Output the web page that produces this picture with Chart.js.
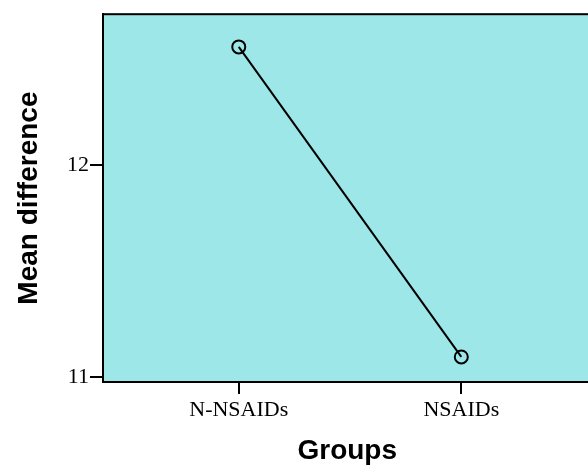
<!DOCTYPE html>
<html>
<head>
<meta charset="utf-8">
<script src="https://cdn.jsdelivr.net/npm/chart.js@4"></script>
<style>
  body { margin: 0; overflow: hidden; background: #fff; }
  #wrap { width: 600px; height: 467px; }
</style>
</head>
<body>
<div id="wrap"><canvas id="myChart" width="600" height="467"></canvas></div>
<script>
// data
const groups = ['N-NSAIDs', 'NSAIDs'];
const groupPos = [1, 2];
const meanDiff = [12.556, 11.096];
const yTicks = [11, 12];

// plot background + top border
const plotBox = {
    id: 'plotBox',
    beforeDraw(chart) {
        const a = chart.chartArea, ctx = chart.ctx;
        ctx.save();
        ctx.fillStyle = '#9ee7e8';
        ctx.fillRect(a.left, a.top, a.right - a.left, a.bottom - a.top);
        ctx.restore();
    },
    afterDraw(chart) {
        const a = chart.chartArea, ctx = chart.ctx;
        ctx.save();
        ctx.strokeStyle = '#000';
        ctx.lineWidth = 2;
        ctx.strokeRect(a.left, a.top, a.right - a.left, a.bottom - a.top);
        ctx.restore();
    }
};

const tickFont = { family: '"Liberation Serif", "Times New Roman", serif', size: 22 };
const titleFont = { family: '"Liberation Sans", Arial, sans-serif', size: 28, weight: 'bold', lineHeight: 1 };

new Chart(document.getElementById('myChart'), {
    type: 'line',
    data: {
        datasets: [{
            data: groupPos.map((x, i) => ({ x: x, y: meanDiff[i] })),
            borderColor: '#000',
            borderWidth: 2,
            pointRadius: 6.5,
            pointBorderWidth: 2,
            pointBackgroundColor: 'rgba(0,0,0,0)',
            pointBorderColor: '#000',
            fill: false,
            tension: 0
        }]
    },
    options: {
        responsive: false,
        animation: false,
        layout: { padding: { top: 12, right: 3, left: 0, bottom: 0 } },
        plugins: { legend: { display: false }, tooltip: { enabled: false } },
        scales: {
            x: {
                type: 'linear',
                min: 0.39,
                max: 2.585,
                afterBuildTicks: (s) => { s.ticks = groupPos.map(v => ({ value: v })); },
                afterFit: (s) => { s.height = 85; },
                ticks: {
                    color: '#000',
                    font: tickFont,
                    padding: 3,
                    callback: (v) => groups[groupPos.indexOf(v)]
                },
                grid: { drawOnChartArea: false, drawTicks: true, tickLength: 12, color: '#000', lineWidth: 2 },
                border: { display: true, color: '#000', width: 2 },
                title: { display: true, text: 'Groups', color: '#000', font: titleFont, padding: { top: 0, bottom: 2 } }
            },
            y: {
                min: 10.978,
                max: 12.71,
                afterBuildTicks: (s) => { s.ticks = yTicks.map(v => ({ value: v })); },
                afterFit: (s) => { s.width = 103; },
                ticks: { color: '#000', font: tickFont, padding: 1 },
                grid: { drawOnChartArea: false, drawTicks: true, tickLength: 13, color: '#000', lineWidth: 2 },
                border: { display: true, color: '#000', width: 2 },
                title: { display: true, text: 'Mean difference', color: '#000', font: titleFont, padding: { top: 15, bottom: 0 } }
            }
        }
    },
    plugins: [plotBox]
});
</script>
</body>
</html>
